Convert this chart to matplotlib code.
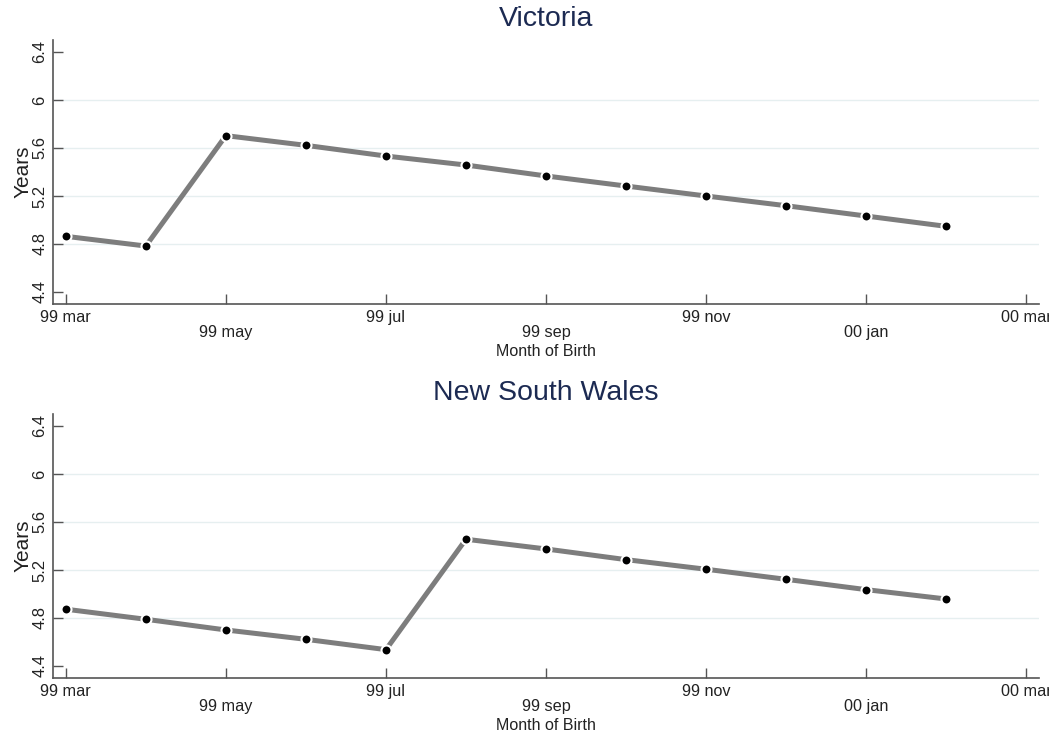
import numpy as np
import matplotlib
matplotlib.use('Agg')
import matplotlib.pyplot as plt

# Month of birth: 0 = 99 mar ... 11 = 00 feb
months = np.arange(12)
tick_months = [0, 2, 4, 6, 8, 10, 12]
tick_labels = ['99 mar', '99 may', '99 jul', '99 sep', '99 nov', '00 jan', '00 mar']

victoria = [4.864, 4.783, 5.703, 5.622, 5.533, 5.458, 5.367, 5.283, 5.200, 5.119, 5.033, 4.947]
nsw = [4.873, 4.789, 4.700, 4.622, 4.536, 5.456, 5.375, 5.286, 5.206, 5.122, 5.036, 4.958]

yticks = [4.4, 4.8, 5.2, 5.6, 6.0, 6.4]
ytick_labels = ['4.4', '4.8', '5.2', '5.6', '6', '6.4']
grid_vals = [4.8, 5.2, 5.6, 6.0]

panels = [('Victoria', victoria), ('New South Wales', nsw)]

plt.rcParams['font.family'] = ['Liberation Sans', 'DejaVu Sans']

fig = plt.figure(figsize=(10.49, 7.35), dpi=100)

# axes boxes in figure fraction
boxes = [[0.0505, 0.5864, 0.94, 0.3592], [0.0505, 0.0776, 0.94, 0.3592]]

for (name, vals), box in zip(panels, boxes):
    ax = fig.add_axes(box)
    for g in grid_vals:
        ax.axhline(g, color='#e6eff0', lw=1.0, zorder=0)
    ax.plot(months, vals, color='#7d7d7d', lw=3.6, solid_capstyle='butt',
            marker='o', markersize=7.2, markerfacecolor='black',
            markeredgecolor='white', markeredgewidth=1.5, zorder=3)
    ax.set_ylim(4.3, 6.5)
    ax.set_xlim(-0.16, 12.16)
    ax.set_yticks(yticks)
    ax.set_yticklabels(ytick_labels, rotation=90, va='center', fontsize=12, color='#222222')
    ax.set_xticks(tick_months)
    # staggered labels like Stata's alternate option
    labs = [l if i % 2 == 0 else '\n' + l for i, l in enumerate(tick_labels)]
    ax.set_xticklabels(labs, fontsize=11.7, color='#222222', linespacing=1.03)
    ax.tick_params(direction='in', length=7, width=1.0, color='#555555', pad=4)
    ax.set_xlabel('Month of Birth', fontsize=11.5, color='#222222', labelpad=3)
    ax.set_ylabel('Years', fontsize=15, color='#222222', labelpad=0)
    for s in ['top', 'right']:
        ax.spines[s].set_visible(False)
    for s in ['left', 'bottom']:
        ax.spines[s].set_color('#555555')
        ax.spines[s].set_linewidth(1.2)
    ax.set_title(name, fontsize=20.5, color='#1c2a52', pad=10)

fig.savefig('out.png', dpi=100)
